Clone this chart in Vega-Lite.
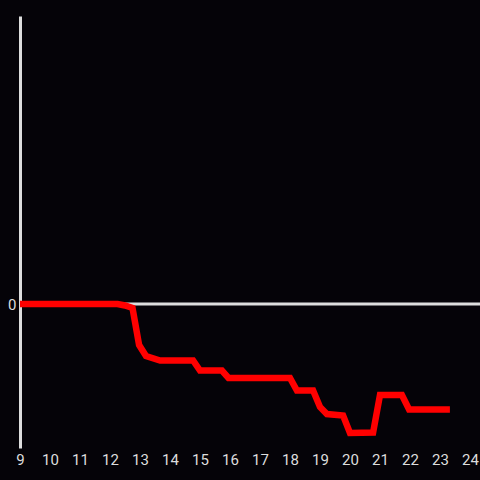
{
  "$schema": "https://vega.github.io/schema/vega-lite/v6.json",
  "width": 460,
  "height": 432,
  "autosize": {"type": "none"},
  "padding": {"left": 20, "top": 16, "right": 0, "bottom": 32},
  "background": "#050308",
  "config": {"view": {"stroke": null}, "font": "Roboto"},
  "datasets": {
    "series": [
      {"hour": 9.0, "value": 0},
      {"hour": 12.25, "value": 0},
      {"hour": 12.5, "value": -0.015},
      {"hour": 12.75, "value": -0.04},
      {"hour": 12.97, "value": -0.41},
      {"hour": 13.2, "value": -0.52},
      {"hour": 13.67, "value": -0.565},
      {"hour": 14.77, "value": -0.565},
      {"hour": 15.0, "value": -0.665},
      {"hour": 15.73, "value": -0.665},
      {"hour": 15.95, "value": -0.74},
      {"hour": 18.0, "value": -0.74},
      {"hour": 18.23, "value": -0.865},
      {"hour": 18.77, "value": -0.865},
      {"hour": 19.0, "value": -1.03},
      {"hour": 19.23, "value": -1.1},
      {"hour": 19.77, "value": -1.115},
      {"hour": 20.0, "value": -1.29},
      {"hour": 20.77, "value": -1.285},
      {"hour": 21.0, "value": -0.91},
      {"hour": 21.73, "value": -0.91},
      {"hour": 21.97, "value": -1.055},
      {"hour": 23.33, "value": -1.055}
    ],
    "zero": [{"value": 0}]
  },
  "layer": [
    {
      "data": {"name": "zero"},
      "mark": {"type": "rule", "color": "#dddddd", "strokeWidth": 3},
      "encoding": {
        "y": {"field": "value", "type": "quantitative", "scale": {"domain": [-1.44, 2.88]}}
      }
    },
    {
      "data": {"name": "series"},
      "mark": {"type": "line", "color": "#ff0000", "strokeWidth": 6.5, "strokeCap": "butt", "strokeJoin": "miter"},
      "encoding": {
        "x": {
          "field": "hour", "type": "quantitative",
          "scale": {"domain": [9, 24.3333], "nice": false, "zero": false},
          "axis": {
            "values": [9,10,11,12,13,14,15,16,17,18,19,20,21,22,23,24], "format": "d",
            "title": null, "domain": false, "ticks": false, "grid": false,
            "labelColor": "#dddddd", "labelFontSize": 15, "labelPadding": 4,
            "labelFlush": false, "labelOverlap": false
          }
        },
        "y": {
          "field": "value", "type": "quantitative",
          "scale": {"domain": [-1.44, 2.88], "nice": false, "zero": false},
          "axis": {
            "values": [0], "format": "d", "title": null, "domain": true, "domainColor": "#dddddd", "domainWidth": 3,
            "ticks": false, "grid": false,
            "labelColor": "#dddddd", "labelFontSize": 15, "labelPadding": 4
          }
        }
      }
    }
  ]
}
